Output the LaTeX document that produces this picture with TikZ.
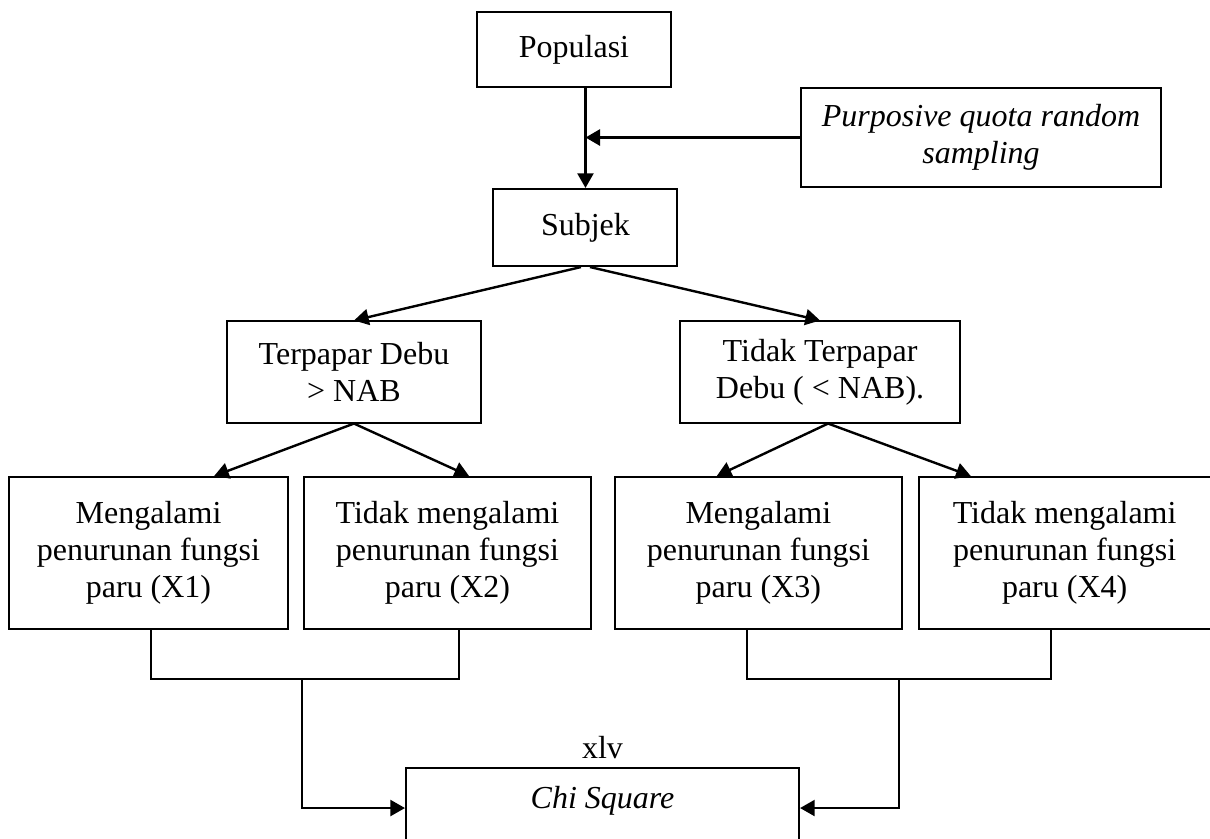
\documentclass[tikz,border=0pt]{standalone}
\usepackage{fontspec}
\setmainfont{Liberation Serif}
\usetikzlibrary{positioning,arrows.meta}

\begin{document}
\begin{tikzpicture}[
    x=0.375pt,
    y=-0.375pt,
    font=\fontsize{12}{13.8}\selectfont,
    box/.style={
        draw,
        line width=0.75pt,
        inner sep=0pt,
        align=center
    },
    top/.style={box, minimum width=72.4pt, minimum height=28.1pt},
    group/.style={box, minimum height=37.9pt},
    outcome/.style={box, minimum height=57pt},
    arrow/.style={-{Triangle[length=5.5pt,width=6pt]}, line width=0.9pt},
    link/.style={line width=0.75pt}
]
\clip (0,0) rectangle (1210,838);

% ============================================================
% POPULASI DAN SAMPEL
% ============================================================
\node[top] (populasi) at (574,49.5) {Populasi};
\node[box, minimum width=135pt, minimum height=37.1pt] (purposive) at (981,137.5)
    {\textit{Purposive quota random}\\\textit{sampling}};
\node[box, minimum width=69pt, minimum height=28.9pt,
      below=37.5pt of populasi, xshift=4.3pt] (subjek) {Subjek};

\draw[arrow] (populasi.south -| subjek.north) -- (subjek.north);
\draw[arrow, line width=1.2pt] (purposive.west) -- (purposive.west -| subjek.north);

% ============================================================
% PAPARAN DEBU
% ============================================================
\node[group, minimum width=95.25pt] (terpapar) at (354,372) {Terpapar Debu\\> NAB};
\node[group, minimum width=105pt, right=73.9pt of terpapar] (tidak)
    {Tidak Terpapar\\Debu ( < NAB).};

\draw[arrow] ([xshift=-1.7pt]subjek.south) -- (terpapar.north);
\draw[arrow] ([xshift=1.7pt]subjek.south) -- (tidak.north);

% ============================================================
% FUNGSI PARU
% ============================================================
\node[outcome, minimum width=104.6pt] (x1) at (148.5,553)
    {Mengalami\\penurunan fungsi\\paru (X1)};
\node[outcome, minimum width=107.6pt, right=5.25pt of x1] (x2)
    {Tidak mengalami\\penurunan fungsi\\paru (X2)};
\node[outcome, minimum width=107.6pt, right=8.25pt of x2] (x3)
    {Mengalami\\penurunan fungsi\\paru (X3)};
\node[outcome, minimum width=109.4pt, right=5.6pt of x3] (x4)
    {Tidak mengalami\\penurunan fungsi\\paru (X4)};

\draw[arrow] (terpapar.south) -- ([xshift=24.6pt]x1.north);
\draw[arrow] (terpapar.south) -- ([xshift=8.1pt]x2.north);
\draw[arrow] ([xshift=3pt]tidak.south) -- ([xshift=-15.6pt]x3.north);
\draw[arrow] ([xshift=3pt]tidak.south) -- ([xshift=-35.2pt]x4.north);

% ============================================================
% UJI CHI SQUARE
% ============================================================
\node[box, anchor=north, minimum width=147.4pt, inner ysep=6pt,
      text height=9pt, text depth=30pt] (chi) at (602.5,767) {\textit{Chi Square}};
\node[above=-0.5pt of chi] (xlv) {xlv};

\coordinate (kiri) at (302,679);
\coordinate (kanan) at (899,679);

\draw[link] ([xshift=0.9pt]x1.south) |- (kiri) -| ([xshift=4.3pt]x2.south);
\draw[link] ([xshift=-4.3pt]x3.south) |- (kanan) -| ([xshift=-5pt]x4.south);
\draw[arrow] (kiri) |- (chi.base west);
\draw[arrow] (kanan) |- (chi.base east);

\end{tikzpicture}
\end{document}
